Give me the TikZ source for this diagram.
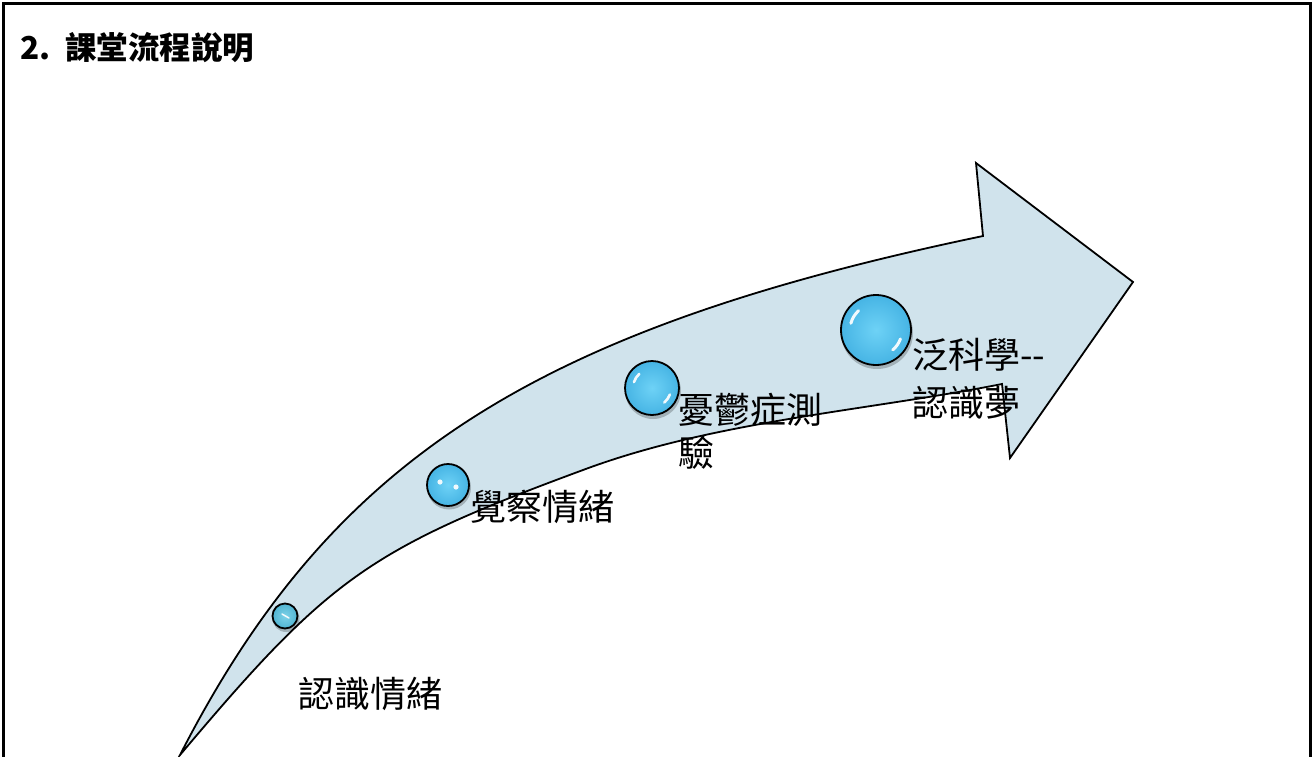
\documentclass[tikz,border=0pt]{standalone}
\usepackage{fontspec}
\newfontfamily\cjk{Noto Sans CJK TC}
\usetikzlibrary{calc}
\definecolor{arrowfill}{RGB}{208,227,236}
\definecolor{ballIn}{RGB}{110,210,246}
\definecolor{ballOut}{RGB}{70,180,228}
\definecolor{tealIn}{RGB}{125,210,232}
\definecolor{tealOut}{RGB}{80,180,210}
\begin{document}
\begin{tikzpicture}[x=1pt,y=-1pt,
  lbl/.style={font=\cjk\fontsize{36}{43}\selectfont, inner sep=0pt, anchor=west, align=left},
  ttl/.style={font=\cjk\bfseries\fontsize{31.5}{36}\selectfont, inner sep=0pt, anchor=west},
  edge/.style={draw=black, line width=1.8pt, line join=miter},
  ball/.style={circle, draw=black, line width=1.8pt, inner sep=0pt, minimum size=#1, inner color=ballIn, outer color=ballOut},
  tball/.style={circle, draw=black, line width=1.8pt, inner sep=0pt, minimum size=#1, inner color=tealIn, outer color=tealOut},
  shade/.style={fill=black, opacity=0.22},
  hl/.style={draw=white, line cap=round, opacity=0.92}]
\clip (0,0) rectangle (1314,756);
\fill[white] (0,0) rectangle (1314,756);
% frame
\draw[line width=2.5pt] (3.5,800) -- (3.5,3.5) -- (1310.5,3.5) -- (1310.5,800);
% title
\node[ttl] (title) at (20,48) {2.\hspace{15pt}課堂流程說明};
% curved arrow
\path[edge, fill=arrowfill] (180,755) .. controls (331,460) and (532,330) .. (983,236)
  -- (976,163) -- (1133,282) -- (1010,458) -- (1002,384)
  .. controls (865,411) and (714,421) .. (583,470)
  .. controls (369,549) and (329,578) .. (180,755) -- cycle;
% shadows
\fill[shade] (286,618.5) circle (13.5);
\fill[shade] (449,487.5) circle (22);
\fill[shade] (653,391) circle (28);
\fill[shade] (877,333) circle (36);
% balls
\node[tball=25pt] (b1) at (285,616) {};
\node[ball=42pt] (b2) at (448,485) {};
\node[ball=54pt] (b3) at (652,388) {};
\node[ball=70pt] (b4) at (876,330) {};
% highlights
\draw[hl, line width=1.5pt] (282,614) -- (289,618);
\fill[white, opacity=0.9] (440,482) circle (2.6);
\fill[white, opacity=0.9] (456,487) circle (2.6);
\draw[hl, line width=2.6pt] ($(b3)+(198:19)$) arc[start angle=198, end angle=228, radius=19];
\draw[hl, line width=2.6pt] ($(b3)+(20:19)$) arc[start angle=20, end angle=50, radius=19];
\draw[hl, line width=3pt] ($(b4)+(195:26)$) arc[start angle=195, end angle=228, radius=26];
\draw[hl, line width=3pt] ($(b4)+(20:26)$) arc[start angle=20, end angle=50, radius=26];
% labels
\node[lbl] (t1) at (298,694) {認識情緒};
\node[lbl] (t2) at (470,507) {覺察情緒};
\node[lbl] (t3) at (678,431) {憂鬱症測\\驗};
\node[lbl] (t4) at (912,379) {泛科學--\\[5pt]認識夢};
\end{tikzpicture}
\end{document}
